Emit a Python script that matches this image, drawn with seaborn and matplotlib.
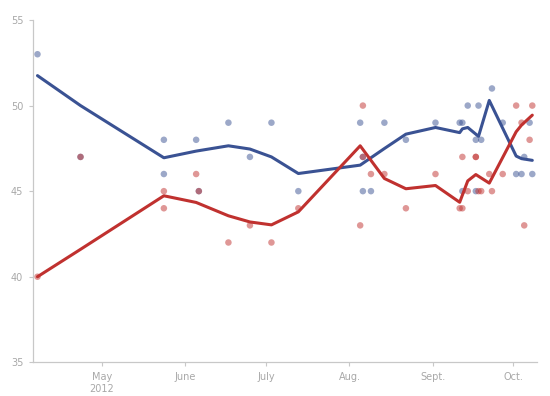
import matplotlib
matplotlib.use('Agg')
import matplotlib.pyplot as plt
import seaborn as sns
import pandas as pd

# Individual polls (date, share)
blue_dates = ['04-07', '04-23', '05-24', '05-24', '06-05', '06-06', '06-17', '06-25',
              '07-03', '07-13', '08-05', '08-06', '08-06', '08-09', '08-14', '08-22',
              '09-02', '09-11', '09-12', '09-12', '09-14', '09-17', '09-17', '09-18',
              '09-19', '09-23', '09-27', '10-02', '10-04', '10-05', '10-07', '10-08']
blue_values = [53, 47, 48, 46, 48, 45, 49, 47,
               49, 45, 49, 47, 45, 45, 49, 48,
               49, 49, 49, 45, 50, 48, 45, 50,
               48, 51, 49, 46, 46, 47, 49, 46]

red_dates = ['04-07', '04-23', '05-24', '05-24', '06-05', '06-06', '06-17', '06-25',
             '07-03', '07-13', '08-05', '08-06', '08-06', '08-09', '08-14', '08-22',
             '09-02', '09-11', '09-12', '09-12', '09-14', '09-17', '09-17', '09-18',
             '09-19', '09-22', '09-23', '09-27', '10-02', '10-04', '10-05', '10-07', '10-08']
red_values = [40, 47, 45, 44, 46, 45, 42, 43,
              42, 44, 43, 50, 47, 46, 46, 44,
              46, 44, 47, 44, 45, 47, 47, 45,
              45, 46, 45, 46, 50, 49, 43, 48, 50]

# Trend lines
blue_trend_dates = ['04-07', '04-23', '05-24', '06-05', '06-17', '06-25', '07-03', '07-13',
                    '08-05', '08-14', '08-22', '09-02', '09-11', '09-12', '09-14', '09-18',
                    '09-22', '10-02', '10-04', '10-08']
blue_trend = [51.75, 50.0, 46.95, 47.34, 47.65, 47.46, 47.0, 46.03,
              46.52, 47.49, 48.33, 48.72, 48.42, 48.64, 48.72, 48.2,
              50.3, 47.05, 46.9, 46.8]

red_trend_dates = ['04-07', '04-23', '05-24', '06-05', '06-17', '06-25', '07-03', '07-13',
                   '08-05', '08-14', '08-22', '09-02', '09-11', '09-14', '09-17', '09-22',
                   '10-02', '10-04', '10-08']
red_trend = [40.0, 41.6, 44.73, 44.34, 43.56, 43.2, 43.03, 43.79,
             47.65, 45.74, 45.14, 45.33, 44.35, 45.6, 45.97, 45.47,
             48.47, 48.86, 49.44]

tick_dates = ['05-01', '06-01', '07-01', '08-01', '09-01', '10-01']
tick_labels = ['May\n2012', 'June', 'July', 'Aug.', 'Sept.', 'Oct.']
y_ticks = [35, 40, 45, 50, 55]

BLUE = '#3a5293'
RED = '#c0312f'


def to_dt(days):
    return pd.to_datetime(['2012-' + d for d in days])


polls = pd.concat([
    pd.DataFrame({'date': to_dt(blue_dates), 'value': blue_values, 'party': 'blue'}),
    pd.DataFrame({'date': to_dt(red_dates), 'value': red_values, 'party': 'red'}),
], ignore_index=True)

sns.set_style('white')
plt.rcParams['font.family'] = ['DejaVu Sans']

fig = plt.figure(figsize=(5.5, 3.96), dpi=100)
ax = fig.add_axes([33 / 550, 1 - 362.3 / 396, 504 / 550, 342.3 / 396])

sns.scatterplot(data=polls, x='date', y='value', hue='party',
                palette={'blue': BLUE, 'red': RED}, alpha=0.5, s=22,
                linewidth=0, legend=False, ax=ax, zorder=1)
sns.lineplot(x=to_dt(blue_trend_dates), y=blue_trend, color=BLUE, linewidth=2.2, ax=ax, zorder=3)
sns.lineplot(x=to_dt(red_trend_dates), y=red_trend, color=RED, linewidth=2.2, ax=ax, zorder=4)

ax.set_xlim(pd.Timestamp('2012-04-05 08:00'), pd.Timestamp('2012-10-09 18:00'))
ax.set_ylim(35, 55)
ax.set_xticks(to_dt(tick_dates))
ax.set_xticklabels(tick_labels, linespacing=1.25)
ax.set_yticks(y_ticks)
ax.set_xlabel('')
ax.set_ylabel('')

for side in ['top', 'right']:
    ax.spines[side].set_visible(False)
for side in ['left', 'bottom']:
    ax.spines[side].set_color('#c8c8c8')
    ax.spines[side].set_linewidth(0.9)

ax.tick_params(axis='both', direction='out', length=3, width=0.8, color='#c8c8c8',
               labelcolor='#a8a8a8', labelsize=7)
ax.tick_params(axis='x', pad=4)
ax.tick_params(axis='y', pad=4, left=True)
ax.tick_params(axis='x', bottom=True)

fig.savefig('out.png', dpi=100)
plt.close(fig)
